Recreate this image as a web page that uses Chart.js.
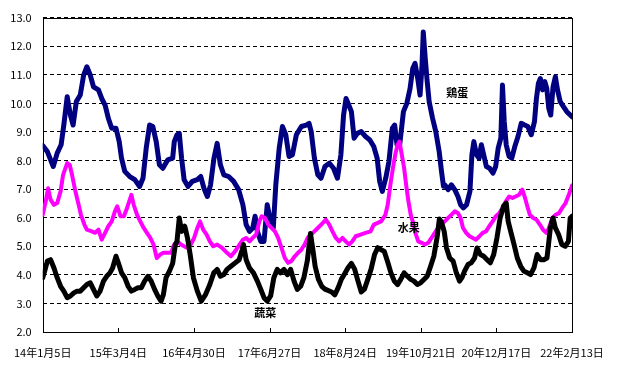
<!DOCTYPE html>
<html>
<head>
<meta charset="utf-8">
<script src="https://cdn.jsdelivr.net/npm/chart.js@4/dist/chart.umd.min.js"></script>
<style>
  html, body { margin: 0; padding: 0; background: #fff; }
</style>
</head>
<body>
<canvas id="myChart" width="624" height="371"></canvas>
<script>
const ctx = document.querySelector('#myChart');

// day index counted from 2014-01-05
const tickDays = [0, 423, 846, 1269, 1692, 2115, 2538, 2961]
const tickLabels = ['14年1月5日', '15年3月4日', '16年4月30日', '17年6月27日', '18年8月24日', '19年10月21日', '20年12月17日', '22年2月13日']

const eggDays = [0, 26, 59, 81, 103, 118, 137, 155, 170, 188, 210, 229, 247, 266, 284, 312, 330, 349, 367, 386, 410, 428, 441, 459, 487, 515, 542, 561, 579, 598, 616, 635, 653, 672, 699, 727,
  736, 751, 764, 777, 791, 813, 837, 865, 884, 902, 921, 939, 958, 976, 994, 1013, 1040, 1068, 1096, 1120, 1138, 1157, 1175, 1188, 1201, 1220, 1238, 1256, 1275, 1290, 1304, 1323, 1341, 1360, 1378, 1397, 1419, 1447, 1474,
  1490, 1502, 1520, 1539, 1557, 1579, 1603, 1627, 1649, 1668, 1683, 1697, 1712, 1727, 1742, 1760, 1782, 1806, 1830, 1852, 1871, 1885, 1900, 1919, 1937, 1956, 1969, 1982, 1996, 2018, 2037, 2055, 2070, 2083, 2098, 2111, 2122, 2129, 2140, 2151, 2162, 2181, 2199, 2218, 2231, 2242,
  2249, 2268, 2286, 2305, 2323, 2338, 2353, 2371, 2390, 2401, 2412, 2427, 2441, 2454, 2467, 2482, 2500, 2519, 2534, 2548, 2563, 2572, 2582, 2593, 2609, 2624, 2641, 2659, 2677, 2696, 2714, 2733, 2751, 2762, 2773, 2784, 2796, 2809, 2820, 2831, 2842, 2855, 2868, 2880, 2895, 2914, 2932, 2951, 2961]
const eggValues = [8.52, 8.31, 7.79, 8.26, 8.55, 9.24, 10.23, 9.59, 9.24, 10.06, 10.29, 10.99, 11.28, 10.99, 10.58, 10.47, 10.17, 9.94, 9.48, 9.13, 9.13, 8.66, 8.08, 7.62, 7.44, 7.33, 7.09, 7.38, 8.43, 9.24, 9.19, 8.66, 7.85, 7.73, 8.02, 8.08,
  8.66, 8.9, 8.95, 8.08, 7.33, 7.09, 7.27, 7.33, 7.44, 7.03, 6.74, 7.15, 8.08, 8.6, 7.85, 7.5, 7.44, 7.27, 6.98, 6.45, 5.76, 5.52, 5.64, 6.05, 5.52, 5.17, 5.17, 6.45, 5.87, 5.64, 7.15, 8.43, 9.19, 8.9, 8.14, 8.2, 8.9, 9.19, 9.24,
  9.3, 9.01, 8.08, 7.5, 7.38, 7.79, 7.91, 7.73, 7.38, 8.2, 9.59, 10.17, 9.94, 9.71, 8.78, 8.95, 9.01, 8.84, 8.72, 8.49, 8.08, 7.27, 6.92, 7.38, 7.97, 9.13, 9.24, 8.55, 8.49, 9.71, 10.0, 10.52, 11.22, 11.4, 10.87, 10.29, 11.34, 12.5, 11.57, 10.76, 10.06, 9.48, 9.01, 8.31, 7.62, 7.1,
  7.15, 6.98, 7.15, 6.98, 6.74, 6.45, 6.34, 6.45, 6.92, 8.2, 8.66, 8.2, 8.08, 8.55, 8.2, 7.79, 7.73, 7.56, 7.79, 8.43, 8.78, 10.64, 9.36, 8.55, 8.14, 8.08, 8.49, 8.84, 9.3, 9.24, 9.19, 8.9, 9.36, 10.17, 10.7, 10.87, 10.47, 10.76, 10.52, 9.83, 9.59, 10.58, 10.93, 10.47, 10.06, 9.88, 9.71, 9.59, 9.53]

const fruitDays = [0, 17, 30, 44, 63, 81, 100, 114, 137, 151, 164, 183, 201, 214, 233, 247, 275, 293, 312, 330, 349, 367, 386, 404, 417, 435, 454, 472, 496, 509, 528, 546, 565, 583, 602, 620, 638, 657, 675, 699, 718,
  736, 754, 773, 791, 810, 828, 847, 865, 880, 898, 917, 935, 954, 976, 1004, 1031, 1053, 1077, 1101, 1120, 1138, 1157, 1175, 1194, 1212, 1225, 1243, 1262, 1280, 1299, 1317, 1336, 1354, 1373, 1391, 1410, 1428, 1447, 1465,
  1483, 1511, 1539, 1566, 1584, 1603, 1621, 1640, 1658, 1677, 1695, 1714, 1732, 1751, 1778, 1806, 1834, 1852, 1871, 1893, 1917, 1930, 1945, 1959, 1972, 1985, 1996, 2009, 2022, 2033, 2046, 2059, 2073, 2088, 2101, 2120, 2138, 2157, 2175, 2193, 2212, 2231,
  2249, 2268, 2286, 2305, 2323, 2338, 2351, 2369, 2388, 2406, 2424, 2443, 2461, 2480, 2498, 2517, 2535, 2554, 2572, 2591, 2609, 2628, 2646, 2665, 2683, 2696, 2711, 2725, 2744, 2762, 2781, 2799, 2818, 2832, 2851, 2869, 2888, 2906, 2925, 2943, 2961]
const fruitValues = [6.1, 6.57, 7.03, 6.63, 6.45, 6.51, 6.92, 7.5, 7.91, 7.85, 7.5, 6.92, 6.45, 6.1, 5.76, 5.58, 5.52, 5.47, 5.58, 5.23, 5.47, 5.7, 5.87, 6.22, 6.4, 6.05, 6.05, 6.34, 6.8, 6.45, 6.1, 5.87, 5.64, 5.47, 5.29, 5.06, 4.59, 4.71, 4.77, 4.77, 4.77,
  5.06, 5.17, 5.06, 5.0, 4.94, 5.06, 5.29, 5.64, 5.87, 5.58, 5.41, 5.17, 5.0, 5.06, 4.94, 4.77, 4.65, 4.83, 5.06, 5.23, 5.29, 5.17, 5.29, 5.41, 5.87, 6.05, 5.99, 5.76, 5.64, 5.52, 5.29, 4.94, 4.59, 4.42, 4.48, 4.65, 4.77, 4.88, 5.06,
  5.3, 5.47, 5.64, 5.81, 5.93, 5.76, 5.52, 5.29, 5.17, 5.29, 5.17, 5.06, 5.17, 5.35, 5.41, 5.47, 5.52, 5.76, 5.81, 5.87, 6.1, 6.45, 7.15, 7.73, 8.2, 8.55, 8.66, 8.2, 7.73, 7.15, 6.57, 6.1, 5.81, 5.41, 5.17, 5.12, 5.06, 5.12, 5.29, 5.47, 5.64, 5.81,
  5.87, 5.99, 6.1, 6.22, 6.16, 5.99, 5.64, 5.47, 5.35, 5.29, 5.23, 5.35, 5.47, 5.52, 5.7, 5.87, 6.05, 6.16, 6.34, 6.57, 6.74, 6.69, 6.74, 6.8, 6.98, 6.74, 6.4, 6.1, 5.99, 5.93, 5.76, 5.58, 5.47, 5.64, 5.99, 6.1, 6.16, 6.34, 6.51, 6.8, 7.12]

const vegDays = [0, 11, 26, 44, 63, 81, 100, 118, 137, 155, 174, 192, 210, 229, 247, 266, 284, 303, 321, 340, 358, 376, 391, 410, 423, 441, 459, 478, 496, 515, 533, 552, 570, 589, 607, 626, 644, 662, 675, 690, 709, 727, 742,
  751, 764, 777, 795, 810, 825, 843, 865, 887, 911, 935, 957, 976, 994, 1013, 1031, 1053, 1077, 1099, 1116, 1123, 1138, 1157, 1179, 1201, 1220, 1238, 1256, 1275, 1293, 1312, 1330, 1350, 1369, 1387, 1406, 1424, 1443, 1461, 1480,
  1498, 1511, 1524, 1542, 1561, 1579, 1597, 1616, 1634, 1653, 1671, 1690, 1708, 1727, 1745, 1763, 1782, 1800, 1819, 1837, 1856, 1874, 1893, 1911, 1930, 1948, 1967, 1985, 2003, 2022, 2040, 2059, 2077, 2096, 2114, 2133, 2151, 2170, 2188, 2206, 2219, 2231,
  2246, 2259, 2277, 2296, 2314, 2332, 2345, 2360, 2379, 2397, 2416, 2430, 2449, 2467, 2486, 2504, 2523, 2541, 2559, 2578, 2593, 2604, 2618, 2637, 2655, 2674, 2692, 2711, 2729, 2748, 2766, 2785, 2803, 2821, 2840, 2855, 2868, 2886, 2904, 2923, 2941, 2951, 2961]
const vegValues = [3.9, 4.13, 4.48, 4.53, 4.24, 3.9, 3.6, 3.43, 3.2, 3.26, 3.37, 3.43, 3.43, 3.55, 3.66, 3.72, 3.49, 3.26, 3.43, 3.78, 3.95, 4.07, 4.24, 4.65, 4.42, 4.07, 3.9, 3.6, 3.43, 3.49, 3.55, 3.55, 3.78, 3.95, 3.78, 3.49, 3.26, 3.08, 3.31, 3.9, 4.13, 4.4, 5.06,
  5.17, 5.99, 5.52, 5.7, 5.29, 4.71, 3.9, 3.43, 3.08, 3.31, 3.66, 4.07, 4.19, 3.95, 4.01, 4.19, 4.3, 4.42, 4.53, 4.88, 5.06, 4.53, 4.24, 4.07, 3.78, 3.49, 3.2, 3.08, 3.26, 3.9, 4.19, 4.07, 4.19, 4.01, 4.19, 3.78, 3.49, 3.6, 3.9, 4.48,
  5.45, 4.9, 4.3, 3.85, 3.6, 3.5, 3.45, 3.4, 3.3, 3.55, 3.85, 4.05, 4.25, 4.4, 4.2, 3.8, 3.4, 3.5, 3.85, 4.2, 4.7, 4.95, 4.88, 4.82, 4.45, 4.07, 3.78, 3.66, 3.84, 4.07, 3.95, 3.84, 3.78, 3.66, 3.72, 3.84, 3.95, 4.3, 4.65, 5.3, 5.95, 5.85,
  5.52, 4.94, 4.59, 4.48, 4.07, 3.78, 3.9, 4.13, 4.36, 4.42, 4.59, 4.94, 4.71, 4.65, 4.53, 4.42, 4.71, 5.29, 5.99, 6.4, 6.51, 5.87, 5.52, 5.06, 4.59, 4.3, 4.13, 4.07, 4.01, 4.24, 4.71, 4.53, 4.53, 4.59, 5.64, 5.99, 5.64, 5.41, 5.06, 5.0, 5.17, 5.99, 6.05]

// series names written on the plot: [text, day, value]
const seriesNotes = [['鶏蛋', 2319, 10.38], ['水果', 2048, 5.63], ['蔬菜', 1245, 2.66]]

const toPoints = (days, vals) => days.map((d, i) => ({ x: d, y: vals[i] }))

Chart.defaults.font.family = "'Noto Sans CJK JP', 'Noto Sans', sans-serif"
Chart.defaults.font.size = 11
Chart.defaults.color = '#000'

const framePlugin = {
  id: 'frame',
  beforeDatasetsDraw(chart) {
    const c = chart.ctx, a = chart.chartArea
    c.save()
    c.strokeStyle = '#000'
    c.lineWidth = 1
    c.strokeRect(Math.round(a.left) + 0.5, Math.round(a.top) + 0.5, Math.round(a.right - a.left), Math.round(a.bottom - a.top))
    // small tick marks pointing inward on the x axis
    const xs = chart.scales.x
    tickDays.forEach(d => {
      const px = Math.round(xs.getPixelForValue(d)) + 0.5
      c.beginPath()
      c.moveTo(px, a.bottom)
      c.lineTo(px, a.bottom - 4)
      c.stroke()
    })
    c.restore()
  },
  afterDatasetsDraw(chart) {
    const c = chart.ctx
    c.save()
    c.font = "bold 11px 'Noto Sans CJK JP', sans-serif"
    c.fillStyle = '#000'
    c.textAlign = 'center'
    c.textBaseline = 'middle'
    seriesNotes.forEach(n => {
      c.fillText(n[0], chart.scales.x.getPixelForValue(n[1]), chart.scales.y.getPixelForValue(n[2]))
    })
    c.restore()
  }
}

const data = {
  datasets: [
    {
      label: '蔬菜',
      data: toPoints(vegDays, vegValues),
      borderColor: '#000000',
      borderWidth: 5,
    },
    {
      label: '水果',
      data: toPoints(fruitDays, fruitValues),
      borderColor: '#ff00ff',
      borderWidth: 4,
    },
    {
      label: '鶏蛋',
      data: toPoints(eggDays, eggValues),
      borderColor: '#000080',
      borderWidth: 5,
    },
  ]
};

const config = {
  type: 'line',
  data: data,
  plugins: [framePlugin],
  options: {
    responsive: false,
    animation: false,
    layout: { padding: { left: 0, right: 52, top: 17, bottom: 0 } },
    elements: {
      point: { radius: 0 },
      line: { tension: 0, borderJoinStyle: 'round', borderCapStyle: 'round' }
    },
    plugins: {
      legend: { display: false },
      tooltip: { enabled: false }
    },
    scales: {
      x: {
        type: 'linear',
        min: 0,
        max: 2961,
        afterBuildTicks: scale => { scale.ticks = tickDays.map(v => ({ value: v })) },
        afterFit: scale => { scale.height = 39 },
        grid: { display: false, drawTicks: false },
        border: { display: false },
        ticks: {
          autoSkip: false,
          maxRotation: 0,
          padding: 14,
          callback: (v) => tickLabels[tickDays.indexOf(v)]
        }
      },
      y: {
        min: 2,
        max: 13,
        afterFit: scale => { scale.width = 37 },
        grid: { color: '#000', lineWidth: 1, drawTicks: false },
        border: { display: false, dash: [4, 3] },
        ticks: {
          stepSize: 1,
          padding: 11,
          callback: v => v.toFixed(1)
        }
      }
    }
  },
};

const myChart = new Chart(ctx, config)
</script>
</body>
</html>
